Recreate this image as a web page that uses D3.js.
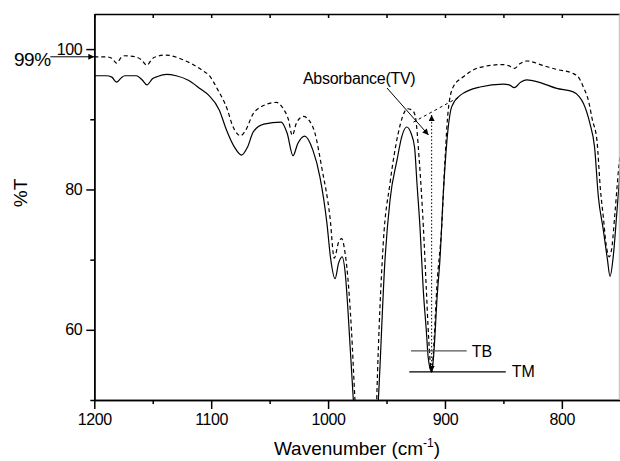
<!DOCTYPE html>
<html>
<head>
<meta charset="utf-8">
<script src="https://cdn.jsdelivr.net/npm/d3@7"></script>
<style>
body { margin: 0; background: #fff; }
text { font-family: "Liberation Sans", Arial, sans-serif; fill: #000; }
</style>
</head>
<body>
<svg id="chart"></svg>
<script>
// spectra (wavenumber cm-1 -> %T)
const wnSolid = [1200, 1190, 1185, 1181, 1177, 1174, 1164, 1159, 1155, 1150, 1146, 1138, 1130, 1120, 1109, 1102,
  1093, 1087, 1080, 1074, 1069, 1064, 1055, 1040, 1035, 1030, 1026, 1020, 1013, 1007, 1001, 998, 994, 991, 988,
  985, 983, 978.4, 975, 967, 960, 957, 951.3, 947, 941, 937, 932.7, 929, 926, 924, 921.4, 918.5, 916, 914.3, 911.4,
  910, 906.5, 904.3, 901.4, 898.5, 894.2, 887, 870, 850, 845, 840.7, 835, 830, 820, 804.4, 790.2, 785, 781.6, 776,
  772, 768.8, 764.5, 761, 758.8, 756, 753, 750];
const tSolid = [96.2, 96.2, 96.0, 95.3, 95.9, 96.2, 96.2, 95.6, 94.9, 95.8, 96.1, 96.4, 96.2, 95.6, 94.3, 93.4,
  91.3, 88.5, 86.0, 84.9, 86.0, 88.2, 89.3, 89.6, 88.0, 84.8, 86.5, 87.6, 85.6, 81.8, 75.2, 70.4, 67.3, 69.5, 70.4,
  67.5, 62.8, 50, 42, 35, 42, 50, 70, 78.5, 84.2, 87.5, 88.9, 88.0, 86.0, 81, 74.7, 65.5, 60, 56, 54.0,
  55.7, 65.2, 70, 79.5, 86.6, 91.8, 93.4, 94.6, 95.0, 94.9, 94.5, 95.3, 95.6, 95.3, 94.4, 93.9, 93.2, 92.3, 89.4,
  86, 79, 74.2, 70, 67.6, 70.5, 76.6, 83];

const wnDashed = [1200, 1190, 1185, 1181, 1177, 1174, 1165, 1160, 1155, 1151, 1149, 1139, 1123, 1106, 1102, 1095,
  1086, 1082, 1078, 1075, 1071, 1064, 1060, 1044, 1038.3, 1034, 1030.6, 1027, 1021.2, 1016, 1011.2, 1005.5, 998.4,
  994.7, 991, 988.4, 985.5, 984, 980, 977, 973, 965, 960, 958.4, 952.8, 947, 940, 936, 932.2, 928, 925.6, 922,
  918.5, 916, 914, 911.4, 909.5, 907, 902.8, 900, 897.2, 893, 884.3, 870, 850, 845, 840.7, 836, 830, 815, 804.4,
  790, 785, 781.6, 777, 774, 770, 767, 764.5, 762, 759.4, 757, 754.6, 750.9, 750];
const tDashed = [98.9, 98.9, 98.7, 98.0, 98.8, 99.05, 98.9, 98.5, 97.7, 98.5, 98.8, 99.15, 98.4, 96.8, 96.3, 94.4,
  91.3, 89.2, 88.0, 87.65, 88.3, 90.8, 91.5, 92.4, 91.5, 90, 87.7, 89.5, 90.4, 89.8, 88, 83.2, 76.1,
  70.2, 72.5, 73.0, 71, 69, 60, 50, 40, 33, 40, 50, 72.3, 80.9, 88, 90.5, 91.5, 91.3, 90.6, 84.2,
  74.7, 66, 59, 54, 58, 66, 74.7, 84.2, 91.3, 94.6, 96.05, 97.4, 97.8, 97.6, 97.25, 97.9, 98.3, 97.6, 97.1,
  96.5, 95.8, 94.6, 92.5, 90, 87, 80, 76, 72, 70.4, 72, 76.6, 83.8, 85];

// annotation levels
const tvBase = [[927, 89.6], [888.6, 93.1]];
const tvBand = 911.4;
const tvTop = 90.6;
const tbLevel = 57.0;
const tmLevel = 54.0;
const level99 = 98.9;

const xTicks = [1200, 1100, 1000, 900, 800];
const xMinor = [1150, 1050, 950, 850, 750];
const yTicks = [60, 80, 100];
const yMinor = [50, 70, 90];

const W = 620, H = 461;
const pl = 94.3, pr = 620.3, pt = 14, pb = 400;

const svg = d3.select('#chart').attr('width', W).attr('height', H);

const x = d3.scaleLinear().domain([1200, 750]).range([pl, pr]);
const y = d3.scaleLinear().domain([50, 105]).range([pb, pt]);

// markers
const defs = svg.append('defs');
defs.append('marker')
  .attr('id', 'head')
  .attr('markerUnits', 'userSpaceOnUse')
  .attr('viewBox', '0 0 10 10')
  .attr('refX', 10).attr('refY', 5)
  .attr('markerWidth', 11).attr('markerHeight', 6)
  .attr('orient', 'auto-start-reverse')
  .append('path').attr('d', 'M0,0L10,5L0,10z').attr('fill', '#000');
defs.append('clipPath').attr('id', 'plot')
  .append('rect').attr('x', pl).attr('y', pt).attr('width', pr - pl).attr('height', pb - pt);

// spectra
const line = d3.line()
  .x(d => x(d[0]))
  .y(d => y(d[1]))
  .curve(d3.curveMonotoneX);

const g = svg.append('g').attr('clip-path', 'url(#plot)');

g.append('path')
  .datum(d3.zip(wnDashed, tDashed))
  .attr('d', line)
  .attr('fill', 'none')
  .attr('stroke', '#000')
  .attr('stroke-width', 1.2)
  .attr('stroke-dasharray', '4,3');

g.append('path')
  .datum(d3.zip(wnSolid, tSolid))
  .attr('d', line)
  .attr('fill', 'none')
  .attr('stroke', '#000')
  .attr('stroke-width', 1.2);

// baseline for TV
g.append('line')
  .attr('x1', x(tvBase[0][0])).attr('y1', y(tvBase[0][1]))
  .attr('x2', x(tvBase[1][0])).attr('y2', y(tvBase[1][1]))
  .attr('stroke', '#000').attr('stroke-width', 1)
  .attr('stroke-dasharray', '3,3');

// vertical double arrow
svg.append('line')
  .attr('x1', x(tvBand)).attr('y1', y(tmLevel))
  .attr('x2', x(tvBand)).attr('y2', y(tvTop))
  .attr('stroke', '#000').attr('stroke-width', 1)
  .attr('stroke-dasharray', '1.5,2')
  .attr('marker-start', 'url(#head)')
  .attr('marker-end', 'url(#head)');

// TB / TM levels
svg.append('line')
  .attr('x1', x(929)).attr('x2', x(881.4))
  .attr('y1', y(tbLevel)).attr('y2', y(tbLevel))
  .attr('stroke', '#555').attr('stroke-width', 1.2);
svg.append('line')
  .attr('x1', x(930.5)).attr('x2', x(848))
  .attr('y1', y(tmLevel)).attr('y2', y(tmLevel))
  .attr('stroke', '#000').attr('stroke-width', 1.2);
svg.append('text').attr('x', x(881.4) + 5).attr('y', y(tbLevel) + 6)
  .style('font-size', '16px').text('TB');
svg.append('text').attr('x', x(848) + 6).attr('y', y(tmLevel) + 5.5)
  .style('font-size', '16px').text('TM');

// Absorbance(TV) label + arrow
svg.append('text').attr('x', 303).attr('y', 84)
  .style('font-size', '16px').style('letter-spacing', '-0.3px').text('Absorbance(TV)');
svg.append('line')
  .attr('x1', 387).attr('y1', 88)
  .attr('x2', 428.5).attr('y2', 135)
  .attr('stroke', '#000').attr('stroke-width', 1)
  .attr('marker-end', 'url(#head)');

// 99% marker
svg.append('line')
  .attr('x1', pl - 44).attr('x2', pl)
  .attr('y1', y(level99)).attr('y2', y(level99))
  .attr('stroke', '#000').attr('stroke-width', 1)
  .attr('marker-end', 'url(#head)');
svg.append('text').attr('x', 14).attr('y', y(level99) + 9.5)
  .style('font-size', '19px').style('letter-spacing', '-0.5px').text('99%');

// axes
function styleAxis(sel) {
  sel.selectAll('path, line').attr('stroke', '#000').attr('stroke-width', 1.5);
  sel.selectAll('text').style('font-size', '16px').style('letter-spacing', '-0.4px')
    .style('font-family', '"Liberation Sans", Arial, sans-serif').attr('fill', '#000');
}

svg.append('g').attr('transform', `translate(0,${pb})`)
  .call(d3.axisBottom(x).tickValues(xMinor).tickSize(4).tickSizeOuter(0).tickFormat(''))
  .call(styleAxis);
svg.append('g').attr('transform', `translate(0,${pb})`)
  .call(d3.axisBottom(x).tickValues(xTicks).tickSize(9).tickPadding(5).tickSizeOuter(0).tickFormat(d3.format('d')))
  .call(styleAxis);

svg.append('g').attr('transform', `translate(0,${pt})`)
  .call(d3.axisTop(x).tickValues(xTicks.concat(xMinor)).tickSize(-4).tickSizeOuter(0).tickFormat(''))
  .call(styleAxis);

svg.append('g').attr('transform', `translate(${pl},0)`)
  .call(d3.axisLeft(y).tickValues(yMinor).tickSize(4).tickSizeOuter(0).tickFormat(''))
  .call(styleAxis);
svg.append('g').attr('transform', `translate(${pl},0)`)
  .call(d3.axisLeft(y).tickValues(yTicks).tickSize(8).tickPadding(4).tickSizeOuter(0))
  .call(styleAxis);

// cropped right frame
svg.append('line')
  .attr('x1', 619.3).attr('x2', 619.3).attr('y1', pt).attr('y2', pb)
  .attr('stroke', '#bbb').attr('stroke-width', 1);

// axis titles
const xt = svg.append('text')
  .attr('x', 357).attr('y', 455)
  .attr('text-anchor', 'middle')
  .style('font-size', '19px');
xt.append('tspan').text('Wavenumber (cm');
xt.append('tspan').attr('dy', -8).style('font-size', '12px').text('-1');
xt.append('tspan').attr('dy', 8).text(')');

svg.append('text')
  .attr('transform', `translate(27,193) rotate(-90)`)
  .attr('text-anchor', 'middle')
  .style('font-size', '19px')
  .text('%T');
</script>
</body>
</html>
